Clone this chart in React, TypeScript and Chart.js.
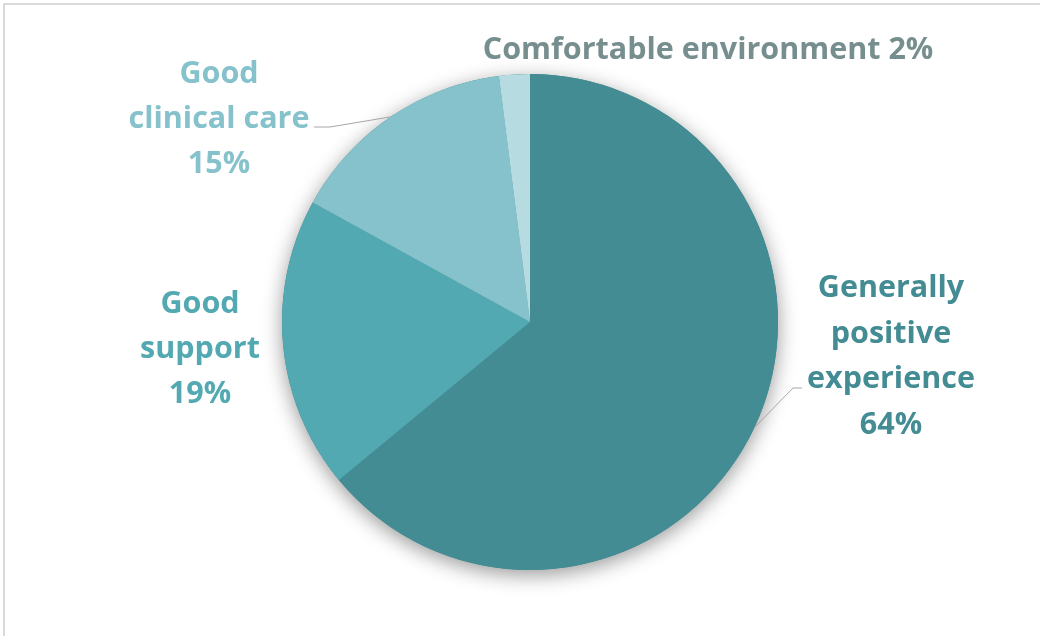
import React, { useEffect, useRef } from "react";
import { Chart, registerables } from "chart.js";

Chart.register(...registerables);

const categories = [
  "Generally positive experience",
  "Good support",
  "Good clinical care",
  "Comfortable environment",
];
const values = [64, 19, 15, 2];
const labelLines = [
  ["Generally", "positive", "experience"],
  ["Good", "support"],
  ["Good", "clinical care"],
  ["Comfortable environment"],
];
const sliceColors = ["#438C94", "#52A9B2", "#85C2CB", "#B6DCE1"];
const textColors = ["#438C94", "#52A9B2", "#85C2CB", "#778E8F"];

// label placement relative to pie centre (style/layout only)
const labelLayout = [
  { dx: 361, dy: -25, lh: 45.5, inline: false, leader: [[263, 66], [272, 66]] },
  { dx: -330, dy: -9, lh: 45, inline: false, leader: null },
  { dx: -311, dy: -239, lh: 45, inline: false, leader: [[-200, -195], [-216, -195]] },
  { dx: 178, dy: -263, lh: 45, inline: true, leader: null },
];

const FONT = "bold 30.5px 'Open Sans'";

const piePlugin = {
  id: "pieDecor",
  beforeDraw(chart: any) {
    const ctx = chart.ctx;
    ctx.save();
    ctx.fillStyle = "#ffffff";
    ctx.fillRect(0, 0, chart.width, chart.height);
    ctx.strokeStyle = "#D9D9D9";
    ctx.lineWidth = 2;
    ctx.strokeRect(4, 4, chart.width + 10, chart.height + 10);
    ctx.restore();
  },
  beforeDatasetsDraw(chart: any) {
    const meta = chart.getDatasetMeta(0);
    const arc = meta.data[0];
    if (!arc) return;
    const ctx = chart.ctx;
    ctx.save();
    ctx.shadowColor = "rgba(0,0,0,0.4)";
    ctx.shadowBlur = 20;
    ctx.shadowOffsetY = 5;
    ctx.fillStyle = sliceColors[0];
    ctx.beginPath();
    ctx.arc(arc.x, arc.y, arc.outerRadius, 0, Math.PI * 2);
    ctx.fill();
    ctx.restore();
  },
  afterDatasetsDraw(chart: any) {
    const meta = chart.getDatasetMeta(0);
    const ctx = chart.ctx;
    const a0 = meta.data[0];
    const cx = a0.x;
    const cy = a0.y;
    ctx.save();
    meta.data.forEach((arc: any, i: number) => {
      const lay = labelLayout[i];
      const pct = values[i] + "%";
      if (lay.leader) {
        const mid = (arc.startAngle + arc.endAngle) / 2;
        const sx = cx + Math.cos(mid) * arc.outerRadius;
        const sy = cy + Math.sin(mid) * arc.outerRadius;
        ctx.strokeStyle = "#A6A6A6";
        ctx.lineWidth = 1;
        ctx.beginPath();
        ctx.moveTo(sx, sy);
        lay.leader.forEach((p: number[]) => ctx.lineTo(cx + p[0], cy + p[1]));
        ctx.stroke();
      }
      ctx.font = FONT;
      ctx.fillStyle = textColors[i];
      ctx.textAlign = "center";
      ctx.textBaseline = "alphabetic";
      const lines = lay.inline
        ? [labelLines[i].join(" ") + " " + pct]
        : [...labelLines[i], pct];
      lines.forEach((t, k) => {
        ctx.fillText(t, cx + lay.dx, cy + lay.dy + k * lay.lh);
      });
    });
    ctx.restore();
  },
};

export default function App() {
  const ref = useRef<HTMLCanvasElement>(null);
  useEffect(() => {
    document.body.style.margin = "0";
    const chart = new Chart(ref.current as HTMLCanvasElement, {
      type: "pie",
      data: {
        labels: categories,
        datasets: [
          {
            data: values,
            backgroundColor: sliceColors,
            borderWidth: 0,
            hoverOffset: 0,
          },
        ],
      },
      options: {
        responsive: false,
        animation: false,
        devicePixelRatio: 1,
        events: [],
        layout: { padding: { left: 282, right: 262, top: 74, bottom: 66 } },
        plugins: {
          legend: { display: false },
          tooltip: { enabled: false },
        },
      },
      plugins: [piePlugin],
    });
    return () => chart.destroy();
  }, []);
  return (
    <div style={{ position: "absolute", left: 0, top: 0, width: 1040, height: 636 }}>
      <canvas ref={ref} width={1040} height={636} />
    </div>
  );
}
